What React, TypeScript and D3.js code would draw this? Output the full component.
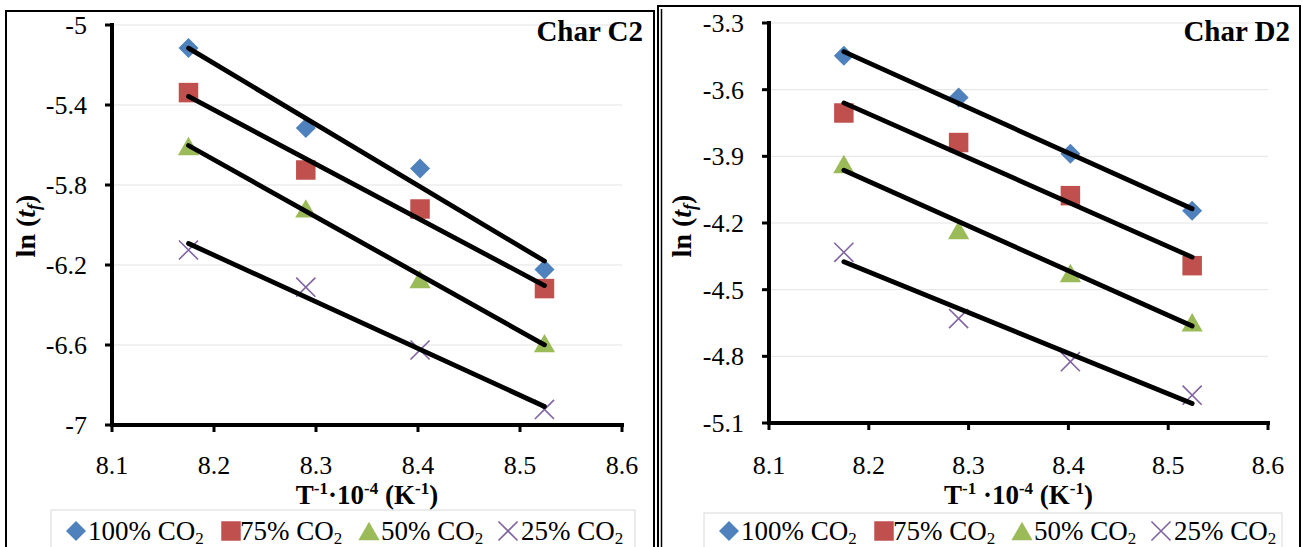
import React from "react"
import * as d3 from "d3"

// x = inverse temperature (T^-1 * 10^-4), same four runs in both charts
const xValues = [8.175, 8.29, 8.402, 8.524]
const xTicks = [8.1, 8.2, 8.3, 8.4, 8.5, 8.6]

const seriesNames = ["100%", "75%", "50%", "25%"]
const seriesColors = ["#4F81BD", "#C0504D", "#9BBB59", "#8064A2"]
const seriesShapes = ["diamond", "square", "triangle", "cross"]

// Char C2, ln(tf)
const c2Series100 = [-5.115, -5.515, -5.718, -6.223]
const c2Series75 = [-5.338, -5.725, -5.92, -6.318]
const c2Series50 = [-5.605, -5.917, -6.27, -6.591]
const c2Series25 = [-6.125, -6.311, -6.625, -6.922]
const c2Ticks = [-5, -5.4, -5.8, -6.2, -6.6, -7]

// Char D2, ln(tf)
const d2Series100 = [-3.447, -3.635, -3.888, -4.145]
const d2Series75 = [-3.705, -3.838, -4.077, -4.392]
const d2Series50 = [-3.935, -4.232, -4.425, -4.647]
const d2Series25 = [-4.332, -4.63, -4.824, -4.975]
const d2Ticks = [-3.3, -3.6, -3.9, -4.2, -4.5, -4.8, -5.1]

const FONT = "'Liberation Serif', 'Times New Roman', serif"

/** least squares fit, same as the Excel linear trendline */
const fit = (xs: number[], ys: number[]) => {
	const mx = d3.mean(xs) as number
	const my = d3.mean(ys) as number
	const sxy = d3.sum(xs, (x, i) => (x - mx) * (ys[i] - my))
	const sxx = d3.sum(xs, x => (x - mx) * (x - mx))
	const slope = sxy / sxx
	return (x: number) => my + slope * (x - mx)
}

const markerPath = (shape: string) => {
	if (shape === "diamond") return d3.symbol(d3.symbolSquare, 200)()
	if (shape === "square") return d3.symbol(d3.symbolSquare, 380)()
	if (shape === "triangle") return d3.symbol(d3.symbolTriangle, 195)()
	return d3.symbol(d3.symbolX, 240)()
}

const Marker = ({ shape, color, x, y }: any) => {
	const d = markerPath(shape) as string
	if (shape === "cross") {
		return <path d={d} transform={`translate(${x},${y})`} fill="none" stroke={color} strokeWidth={1.6} />
	}
	const rot = shape === "diamond" ? " rotate(45)" : ""
	const dy = shape === "triangle" ? 3 : 0
	return <path d={d} transform={`translate(${x},${y + dy})${rot}`} fill={color} />
}

const Panel = ({ frame, left, right, top, bottom, yDomain, yTicks, series, name, titleGap, labelX, yTitleX, legendBox, doubleLeft }: any) => {
	const xScale = d3.scaleLinear().domain([8.1, 8.6]).range([left, right])
	const yScale = d3.scaleLinear().domain(yDomain).range([top, bottom])

	const trend = d3.line<[number, number]>()
		.x(d => xScale(d[0]))
		.y(d => yScale(d[1]))

	const legendMarkerOffsets = [25, 180, 318, 457]
	const legendTextOffsets = [37, 189, 330, 470]
	const titleX = (left + right) / 2

	const trendPaths = series.map((vals: number[]) => {
		const f = fit(xValues, vals)
		const ends: [number, number][] = [xValues[0], xValues[xValues.length - 1]].map(x => [x, f(x)])
		return trend(ends) as string
	})

	return (
		<g fontFamily={FONT}>
			{/* panel frame */}
			<rect x={frame[0]} y={frame[1]} width={frame[2] - frame[0]} height={600} fill="none" stroke="#000" strokeWidth={2} />
			{doubleLeft ? <line x1={frame[0] + 3.5} x2={frame[0] + 3.5} y1={frame[1] + 3} y2={560} stroke="#000" strokeWidth={1.5} /> : null}

			{/* gridlines */}
			{yTicks.map((t: number) => (
				<line key={t} x1={left} x2={right} y1={yScale(t)} y2={yScale(t)} stroke="#e3e3e3" strokeWidth={1} />
			))}

			{/* markers */}
			{series.map((vals: number[], i: number) =>
				vals.map((v, j) => (
					<Marker key={i + "-" + j} shape={seriesShapes[i]} color={seriesColors[i]} x={xScale(xValues[j])} y={yScale(v)} />
				))
			)}

			{/* trendlines over the markers */}
			{trendPaths.map((d: string, i: number) => (
				<path key={"t" + i} d={d} stroke="#000" strokeWidth={4.8} strokeLinecap="round" fill="none" />
			))}

			{/* y axis */}
			<line x1={left} x2={left} y1={top - 2} y2={bottom + 2} stroke="#000" strokeWidth={4} />
			{yTicks.map((t: number) => (
				<g key={"yt" + t}>
					<line x1={left - 7} x2={left} y1={yScale(t)} y2={yScale(t)} stroke="#000" strokeWidth={3} />
					<text x={left - 25} y={yScale(t) + 9} textAnchor="end" fontSize={26}>{String(t)}</text>
				</g>
			))}

			{/* x axis */}
			<line x1={left - 2} x2={right + 2} y1={bottom} y2={bottom} stroke="#000" strokeWidth={4} />
			{xTicks.map(t => (
				<g key={"xt" + t}>
					<line x1={xScale(t)} x2={xScale(t)} y1={bottom} y2={bottom + 7} stroke="#000" strokeWidth={3} />
					<text x={xScale(t)} y={474} textAnchor="middle" fontSize={26}>{t.toFixed(1)}</text>
				</g>
			))}

			{/* x title */}
			<text x={titleX} y={504} textAnchor="middle" fontSize={27} fontWeight="bold">
				T<tspan fontSize={17} dy={-10}>-1</tspan>
				<tspan dy={10}>{titleGap}·10</tspan>
				<tspan fontSize={17} dy={-10}>-4</tspan>
				<tspan dy={10}> (K</tspan>
				<tspan fontSize={17} dy={-10}>-1</tspan>
				<tspan dy={10}>)</tspan>
			</text>

			{/* y title */}
			<text transform={`translate(${yTitleX},226) rotate(-90)`} textAnchor="middle" fontSize={28} fontWeight="bold">
				ln (<tspan fontStyle="italic">t</tspan>
				<tspan fontStyle="italic" fontSize={18} dy={5}>f</tspan>
				<tspan dy={-5}>)</tspan>
			</text>

			{/* chart name */}
			<text x={labelX} y={41} textAnchor="end" fontSize={29} fontWeight="bold">{name}</text>

			{/* legend */}
			<rect x={legendBox[0]} y={legendBox[1]} width={legendBox[2] - legendBox[0]} height={80} fill="#fff" stroke="#d9d9d9" strokeWidth={1} />
			{seriesNames.map((n, i) => (
				<g key={"lg" + i}>
					<Marker shape={seriesShapes[i]} color={seriesColors[i]} x={legendBox[0] + legendMarkerOffsets[i]} y={531} />
					<text x={legendBox[0] + legendTextOffsets[i]} y={540} fontSize={27}>
						{n} CO<tspan fontSize={17} dy={4}>2</tspan>
					</text>
				</g>
			))}
		</g>
	)
}

export default function App() {
	return (
		<svg width={1303} height={547} style={{ position: "absolute", left: 0, top: 0, background: "#fff" }}>
			<rect x={0} y={0} width={1303} height={547} fill="#fff" />
			<Panel
				frame={[6, 11, 654]}
				left={112}
				right={622}
				top={25}
				bottom={425}
				yDomain={[-5, -7]}
				yTicks={c2Ticks}
				series={[c2Series100, c2Series75, c2Series50, c2Series25]}
				name="Char C2"
				titleGap=""
				labelX={643}
				yTitleX={35}
				legendBox={[51, 510, 635]}
			/>
			<Panel
				frame={[658, 6, 1300]}
				left={769}
				right={1268}
				top={23}
				bottom={423}
				yDomain={[-3.3, -5.1]}
				yTicks={d2Ticks}
				series={[d2Series100, d2Series75, d2Series50, d2Series25]}
				name="Char D2"
				titleGap=" "
				labelX={1290}
				yTitleX={691}
				legendBox={[704, 513, 1282]}
				doubleLeft
			/>
		</svg>
	)
}
